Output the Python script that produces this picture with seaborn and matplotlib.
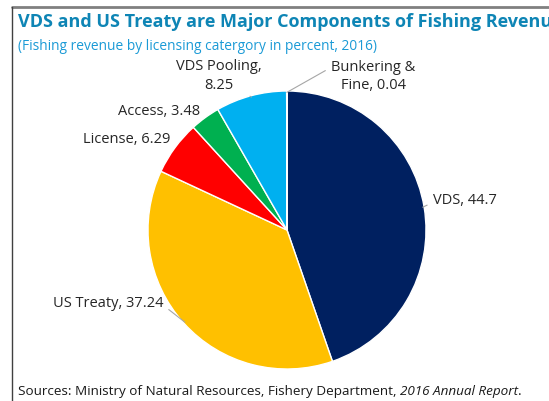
import matplotlib
matplotlib.use("Agg")
import matplotlib.pyplot as plt
from matplotlib.lines import Line2D
import numpy as np
import seaborn as sns

# Fishing revenue by licensing category, percent (2016)
categories = ["VDS", "US Treaty", "License", "Access", "VDS Pooling", "Bunkering &\nFine"]
shares = [44.7, 37.24, 6.29, 3.48, 8.25, 0.04]
colors = ["#002060", "#FFC000", "#FF0000", "#00B050", "#00B0F0", "#1F4E79"]

title = "VDS and US Treaty are Major Components of Fishing Revenue"
subtitle = "(Fishing revenue by licensing catergory in percent, 2016)"

sns.set_theme(style="white")
plt.rcParams["font.family"] = ["Open Sans", "DejaVu Sans"]

W, H = 549, 402
fig = plt.figure(figsize=(W / 100, H / 100), dpi=100)

# pie axes: centre and radius given in pixels
cx, cy, r = 287, 231, 139
ax = fig.add_axes([(cx - r) / W, (H - cy - r) / H, 2 * r / W, 2 * r / H])
wedges, _ = ax.pie(shares, colors=colors, startangle=90, counterclock=False,
                   radius=1.0, wedgeprops=dict(edgecolor="white", linewidth=1.0))
ax.set_xlim(-1, 1)
ax.set_ylim(-1, 1)
ax.set_aspect("equal")
ax.axis("off")

# label placement: text anchor (radius units), alignment, leader-line attach point (or None)
label_layout = [
    ((1.05, 0.22), "left", (0.0, 0.3)),
    ((-0.89, -0.52), "right", (1.0, 0.3)),
    ((-0.84, 0.655), "right", None),
    ((-0.625, 0.86), "right", None),
    ((-0.49, 1.115), "center", (0.66, 0.15)),
    ((0.62, 1.11), "center", (0.0, 0.75)),
]

LABEL_SIZE = 10.5
for w, name, val, (pos, ha, rel) in zip(wedges, categories, shares, label_layout):
    mid = np.deg2rad((w.theta1 + w.theta2) / 2)
    edge = (np.cos(mid) * 0.99, np.sin(mid) * 0.99)
    text = f"{name}, {val:g}"
    if name == "VDS Pooling":
        text = f"{name},\n{val:g}"
    if rel is not None:
        ax.annotate(text, xy=edge, xytext=pos, ha=ha, va="center", fontsize=LABEL_SIZE,
                    color="#262626", multialignment="center", linespacing=1.3,
                    annotation_clip=False,
                    arrowprops=dict(arrowstyle="-", color="#a6a6a6", lw=0.8,
                                    shrinkA=2, shrinkB=0, relpos=rel))
    else:
        ax.text(pos[0], pos[1], text, ha=ha, va="center", fontsize=LABEL_SIZE,
                color="#262626")

# headings
fig.text(18 / W, 1 - 22 / H, title, fontsize=13, fontweight="bold", color="#0E85B5",
         ha="left", va="center")
fig.text(18 / W, 1 - 47 / H, subtitle, fontsize=9.9, color="#1A9AD6", ha="left", va="center")

# source line with italic report title
SRC_SIZE = 9.7
src = fig.text(18 / W, 1 - 392 / H, "Sources: Ministry of Natural Resources, Fishery Department, ",
               fontsize=SRC_SIZE, color="#1a1a1a", ha="left", va="center")
fig.canvas.draw()
bb = src.get_window_extent()
fig.text(bb.x1 / W, 1 - 392 / H, "2016 Annual Report", fontsize=SRC_SIZE, style="italic",
         color="#1a1a1a", ha="left", va="center")
bb2 = fig.texts[-1].get_window_extent()
fig.text(bb2.x1 / W, 1 - 392 / H, ".", fontsize=SRC_SIZE, color="#1a1a1a", ha="left", va="center")

# frame lines
fig.add_artist(Line2D([12 / W, 1], [1 - 8 / H, 1 - 8 / H], color="#808080", lw=2))
fig.add_artist(Line2D([12 / W, 12 / W], [0, 1 - 8 / H], color="#404040", lw=1))

fig.savefig("out.png", dpi=100)
